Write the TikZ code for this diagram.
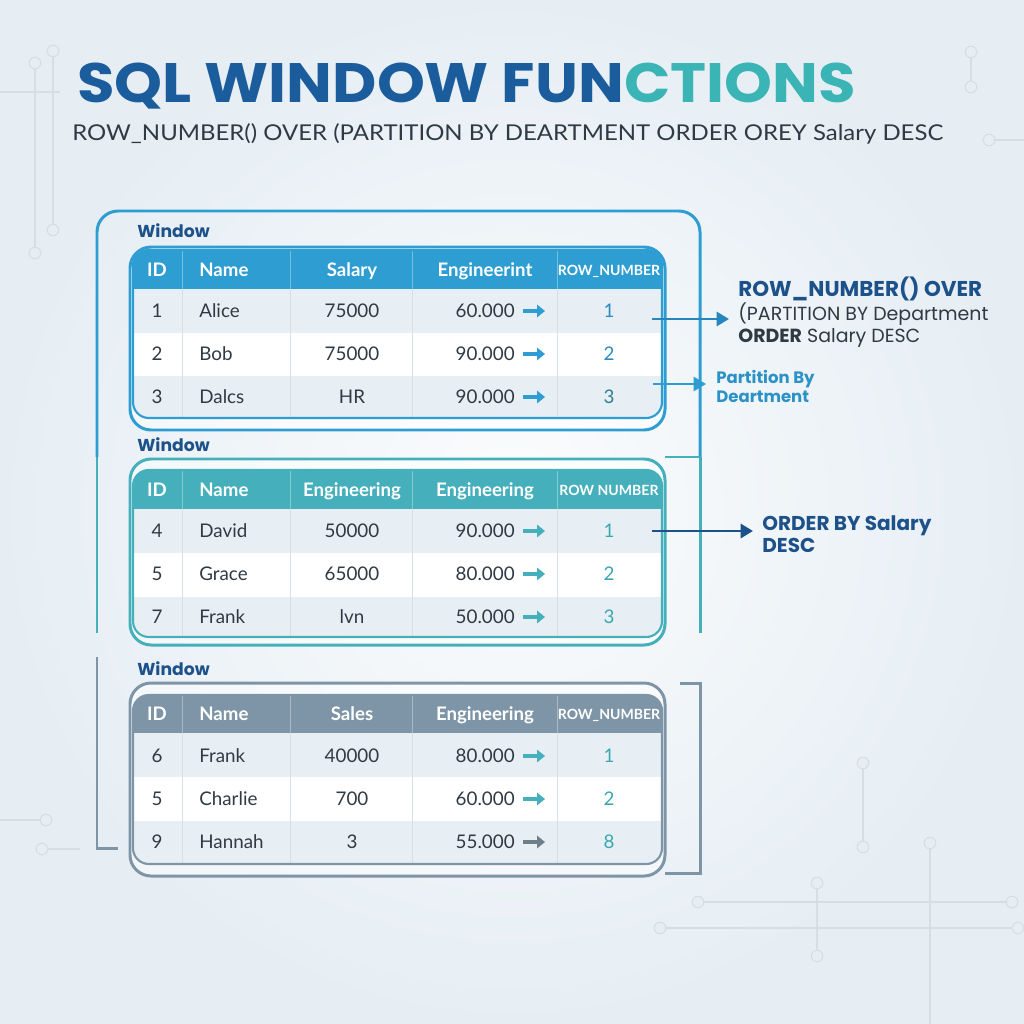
\documentclass[tikz,border=0pt]{standalone}
\usepackage{fontspec}
\setmainfont{Lato}
\newfontfamily\headfont{Poppins}
\usepackage{graphicx}
\definecolor{sqlblue}{HTML}{2E9DD2}
\definecolor{sqlteal}{HTML}{45B0BB}
\definecolor{sqlslate}{HTML}{7E95A7}
\definecolor{sqlnavy}{HTML}{1D5189}
\definecolor{sqltitle}{HTML}{1A5C9C}
\definecolor{sqltitleteal}{HTML}{3BB4B6}
\definecolor{sqltext}{HTML}{303A44}
\definecolor{sqlrow}{HTML}{E7EFF4}
\definecolor{sqlgrid}{HTML}{D5DFE6}
\definecolor{sqlbg}{HTML}{E6EEF4}
\definecolor{sqldeco}{HTML}{D6DEE4}
\definecolor{sqlrn}{HTML}{2B8BBF}
\definecolor{sqlrndark}{HTML}{2E7E94}
\definecolor{sqlrnteal}{HTML}{3AA8B0}
\definecolor{sqlgrey}{HTML}{6E7F8C}
\usetikzlibrary{arrows.meta,positioning,calc}

\begin{document}
\begin{tikzpicture}[x=0.02cm, y=-0.02cm,
  cell/.style={font=\fontsize{10.7}{12}\selectfont, text=sqltext, inner sep=0pt, text height=7.6pt, text depth=0pt},
  hcell/.style={font=\fontsize{10.6}{12}\selectfont\bfseries, text=white, inner sep=0pt, text height=7.6pt, text depth=0pt},
  rncell/.style={font=\fontsize{8}{10}\selectfont\bfseries, text=white, inner sep=0pt, text height=5.7pt, text depth=0pt},
  winlbl/.style={font=\headfont\fontsize{9.8}{11}\selectfont\bfseries, text=sqlnavy, anchor=base west, inner sep=0pt},
  tarrow/.style={line width=2.2pt, -{Triangle[length=4.5pt,width=7pt]}},
  callout/.style={line width=1.6pt, -{Triangle[length=7pt,width=8pt]}},
  deco/.style={draw=sqldeco, line width=0.6pt}]

  \useasboundingbox (0,0) rectangle (1024,1024);

  % Background and circuit decoration
  \fill[sqlbg] (0,0) rectangle (1024,1024);
  \shade[inner color=white!85!sqlbg, outer color=sqlbg] (0,0) rectangle (1024,1024);
  \draw[deco] (0,92) -- (60,92);
  \draw[deco] (989,140) -- (1024,140);
  \draw[deco] (0,820) -- (46,820);
  \draw[deco] (42,849) -- (80,849);
  \draw[deco] (930,843) -- (930,1024);
  \foreach \ax/\ay/\bx/\by in {35/63/35/253, 53/51/53/230, 971/52/971/87, 863/763/863/847, 817/883/817/956, 698/902/1012/902, 660/928/1018/928}
    \draw[deco] (\ax,\ay) -- (\bx,\by);
  \foreach \cx/\cy in {35/63, 35/253, 53/51, 53/230, 971/52, 971/87, 989/140, 46/820, 42/849, 930/843, 863/763, 863/847, 817/883, 817/956, 698/902, 1012/902, 660/928, 1018/928}
    \draw[deco, fill=sqlbg] (\cx,\cy) circle[radius=3.3pt];

  % Title
  \node[anchor=base west, inner sep=0pt] (title) at (77,102) {\resizebox{443pt}{\height}{\headfont\fontsize{31.6}{36}\selectfont\bfseries\color{sqltitle}SQL WINDOW FUN\color{sqltitleteal}CTIONS}};
  \node[anchor=base west, inner sep=0pt] (subtitle) at (72,141) {\resizebox{495.6pt}{\height}{\fontsize{12.4}{14}\selectfont\color{sqltext}ROW\_NUMBER() OVER (PARTITION BY DEARTMENT ORDER OREY Salary DESC}};

  % Window frames
  \draw[sqlblue, line width=1.7pt, rounded corners=12pt] (97,457) -- (97,211) -- (700,211) -- (700,457);
  \draw[sqlteal, line width=1.7pt] (97,457) -- (97,633);
  \draw[sqlteal, line width=1.7pt] (700,457) -- (700,633);
  \draw[sqlteal, line width=1.7pt] (665,457) -- (700,457);
  \draw[sqlslate, line width=1.7pt] (97,657) -- (97,848) -- (118,848);
  \draw[sqlslate, line width=1.7pt] (680,683) -- (700,683) -- (700,873) -- (665,873);

  \node[winlbl] (win1) at (137,237) {Window};
  \node[winlbl] (win2) at (137,451) {Window};
  \node[winlbl] (win3) at (137,675) {Window};

  % Partition 1
  \draw[sqlblue, line width=1.7pt, rounded corners=12pt, fill=white, fill opacity=.5] (130,247) rectangle (665,430);
  \begin{scope}
    \clip[rounded corners=9pt] (133,250) rectangle (662,418);
    \fill[white] (133,250) rectangle (662,418);
    \fill[sqlblue] (133,250) rectangle (662,289);
    \fill[sqlrow] (133,289) rectangle (662,333);
    \fill[sqlrow] (133,376) rectangle (662,418);
    \foreach \cx in {182,290,412,557} {
      \draw[white, opacity=.35] (\cx,250) -- (\cx,289);
      \draw[sqlgrid] (\cx,289) -- (\cx,418);
    }
  \end{scope}
  \draw[sqlblue, line width=1.2pt, rounded corners=9pt] (133,250) rectangle (662,418);
  \node[hcell] (p1hid) at (157,270) {ID};
  \node[hcell, anchor=west] (p1hnm) at (199,270) {Name};
  \node[hcell] (p1hsal) at (352,270) {Salary};
  \node[hcell] (p1heng) at (485,270) {Engineerint};
  \node[rncell] (p1hrn) at (609,270) {ROW\_NUMBER};
  \foreach \id/\nm/\sal/\eng/\rn/\rc [count=\r] in {1/Alice/75000/60.000/1/sqlrn, 2/Bob/75000/90.000/2/sqlrn, 3/Dalcs/HR/90.000/3/sqlrndark} {
    \pgfmathsetmacro\yy{311+43*(\r-1)}
    \node[cell] (p1id\r) at (157,\yy) {\id};
    \node[cell, anchor=west] (p1nm\r) at (199,\yy) {\nm};
    \node[cell] (p1sal\r) at (352,\yy) {\sal};
    \node[cell, anchor=east] (p1eng\r) at (515,\yy) {\eng};
    \node[cell, text=\rc] (p1rn\r) at (609,\yy) {\rn};
    \draw[tarrow, sqlblue] ($(p1eng\r.east)+(8,0)$) -- ++(22,0);
  }

  % Partition 2
  \draw[sqlteal, line width=1.7pt, rounded corners=12pt, fill=white, fill opacity=.5] (130,459) rectangle (665,645);
  \begin{scope}
    \clip[rounded corners=9pt] (133,470) rectangle (662,637);
    \fill[white] (133,470) rectangle (662,637);
    \fill[sqlteal] (133,470) rectangle (662,509);
    \fill[sqlrow] (133,509) rectangle (662,553);
    \fill[sqlrow] (133,597) rectangle (662,637);
    \foreach \cx in {182,290,412,557} {
      \draw[white, opacity=.35] (\cx,470) -- (\cx,509);
      \draw[sqlgrid] (\cx,509) -- (\cx,637);
    }
  \end{scope}
  \draw[sqlteal, line width=1.2pt, rounded corners=9pt] (133,470) rectangle (662,637);
  \node[hcell] (p2hid) at (157,490) {ID};
  \node[hcell, anchor=west] (p2hnm) at (199,490) {Name};
  \node[hcell] (p2hsal) at (352,490) {Engineering};
  \node[hcell] (p2heng) at (485,490) {Engineering};
  \node[rncell] (p2hrn) at (609,490) {ROW NUMBER};
  \foreach \id/\nm/\sal/\eng/\rn [count=\r] in {4/David/50000/90.000/1, 5/Grace/65000/80.000/2, 7/Frank/lvn/50.000/3} {
    \pgfmathsetmacro\yy{531+43*(\r-1)}
    \node[cell] (p2id\r) at (157,\yy) {\id};
    \node[cell, anchor=west] (p2nm\r) at (199,\yy) {\nm};
    \node[cell] (p2sal\r) at (352,\yy) {\sal};
    \node[cell, anchor=east] (p2eng\r) at (515,\yy) {\eng};
    \node[cell, text=sqlrnteal] (p2rn\r) at (609,\yy) {\rn};
    \draw[tarrow, sqlteal] ($(p2eng\r.east)+(8,0)$) -- ++(22,0);
  }

  % Partition 3
  \draw[sqlslate, line width=1.7pt, rounded corners=12pt, fill=white, fill opacity=.5] (130,683) rectangle (665,876);
  \begin{scope}
    \clip[rounded corners=9pt] (133,695) rectangle (662,864);
    \fill[white] (133,695) rectangle (662,864);
    \fill[sqlslate] (133,695) rectangle (662,733);
    \fill[sqlrow] (133,733) rectangle (662,777);
    \fill[sqlrow] (133,821) rectangle (662,864);
    \foreach \cx in {182,290,412,557} {
      \draw[white, opacity=.35] (\cx,695) -- (\cx,733);
      \draw[sqlgrid] (\cx,733) -- (\cx,864);
    }
  \end{scope}
  \draw[sqlslate, line width=1.2pt, rounded corners=9pt] (133,695) rectangle (662,864);
  \node[hcell] (p3hid) at (157,714) {ID};
  \node[hcell, anchor=west] (p3hnm) at (199,714) {Name};
  \node[hcell] (p3hsal) at (352,714) {Sales};
  \node[hcell] (p3heng) at (485,714) {Engineering};
  \node[rncell] (p3hrn) at (609,714) {ROW\_NUMBER};
  \foreach \id/\nm/\sal/\eng/\rn/\ac [count=\r] in {6/Frank/40000/80.000/1/sqlteal, 5/Charlie/700/60.000/2/sqlteal, 9/Hannah/3/55.000/8/sqlgrey} {
    \pgfmathsetmacro\yy{756+43*(\r-1)}
    \node[cell] (p3id\r) at (157,\yy) {\id};
    \node[cell, anchor=west] (p3nm\r) at (199,\yy) {\nm};
    \node[cell] (p3sal\r) at (352,\yy) {\sal};
    \node[cell, anchor=east] (p3eng\r) at (515,\yy) {\eng};
    \node[cell, text=sqlrnteal] (p3rn\r) at (609,\yy) {\rn};
    \draw[tarrow, \ac] ($(p3eng\r.east)+(8,0)$) -- ++(22,0);
  }

  % Callouts (base = last line)
  \node[anchor=base west, inner sep=0pt, align=left, text=sqltext, font=\headfont\fontsize{10.8}{12.5}\selectfont] (over) at (738,342)
    {\textcolor{sqlnavy}{\fontsize{12.2}{12.5}\selectfont\bfseries ROW\_NUMBER() OVER}\\(PARTITION BY Department\\\textbf{ORDER} Salary DESC};
  \node[anchor=base west, inner sep=0pt, align=left, text=sqlblue!85!sqlnavy, font=\headfont\fontsize{9.4}{10.8}\selectfont\bfseries] (part) at (716,402)
    {Partition By\\Deartment};
  \node[anchor=base west, inner sep=0pt, align=left, text=sqlnavy, font=\headfont\fontsize{11.4}{12.5}\selectfont\bfseries] (order) at (762,552)
    {ORDER BY Salary\\DESC};

  \coordinate (a1) at (652,319);
  \coordinate (a2) at (653,384);
  \coordinate (a3) at (652,531);
  \draw[callout, sqlblue!70!sqlnavy] (a1) -- ($(a1 -| over.west)+(-9,0)$);
  \draw[callout, sqlblue, line width=1.3pt] (a2) -- ($(a2 -| part.west)+(-10,0)$);
  \draw[callout, sqlnavy] (a3) -- ($(a3 -| order.west)+(-9,0)$);
\end{tikzpicture}
\end{document}
